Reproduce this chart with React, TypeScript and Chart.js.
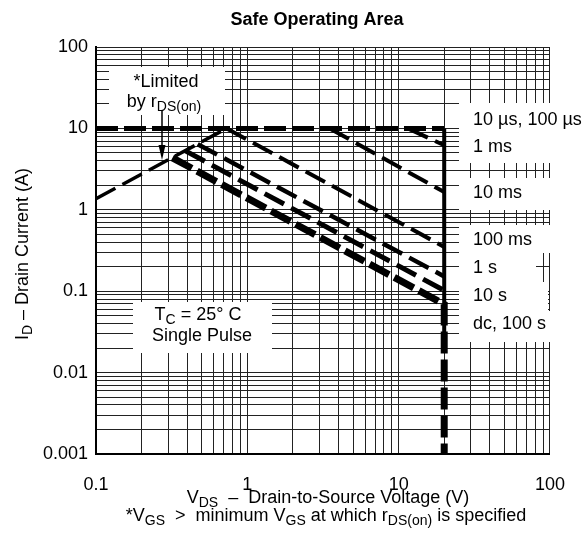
import React, { useEffect, useRef } from "react";
import { Chart, registerables } from "chart.js";

Chart.register(...registerables);

// ---- gridlines & tick labels ----
const xGridValues = [0.1, 0.2, 0.3, 0.4, 0.5, 0.6, 0.7, 0.8, 0.9, 1, 2, 3, 4, 5, 6, 7, 8, 9, 10, 20, 30, 40, 50, 60, 70, 80, 90, 100];
const yGridValues = [
  0.001, 0.002, 0.003, 0.004, 0.005, 0.006, 0.007, 0.008, 0.009,
  0.01, 0.02, 0.03, 0.04, 0.05, 0.06, 0.07, 0.08, 0.09,
  0.1, 0.2, 0.3, 0.4, 0.5, 0.6, 0.7, 0.8, 0.9,
  1, 2, 3, 4, 5, 6, 7, 8, 9,
  10, 20, 30, 40, 50, 60, 70, 80, 90, 100,
];
const xTickValues = [0.1, 1, 10, 100];
const xTickLabels = ["0.1", "1", "10", "100"];
const yTickValues = [0.001, 0.01, 0.1, 1, 10, 100];
const yTickLabels = ["0.001", "0.01", "0.1", "1", "10", "100"];

// ---- curves (V in volts, I in amps) ----
const rdsV = [0.1, 0.73];
const rdsI = [1.37, 10];
const pulse10usV = [0.1, 20];
const pulse10usI = [10, 10];
const verticalV = [20, 20];
const verticalI = [10, 0.03];
const pulse1msV = [11.5, 20];
const pulse1msI = [10, 6.2];
const pulse10msV = [3.5, 20];
const pulse10msI = [10, 1.65];
const pulse100msV = [0.73, 20];
const pulse100msI = [10, 0.35];
const pulse1sV = [0.47, 20];
const pulse1sI = [6.4, 0.152];
const pulse10sV = [0.39, 20];
const pulse10sI = [5.3, 0.102];
const dcV = [0.32, 20, 20];
const dcI = [4.35, 0.069, 0.001];

const curveLabels = ["10 \u00b5s, 100 \u00b5s", "1 ms", "10 ms", "100 ms", "1 s", "10 s", "dc, 100 s"];

const FONT = '"Liberation Sans", Arial, Helvetica, sans-serif';
const FS = 18;

type Part = { t: string; sub?: boolean };

function drawParts(
  ctx: CanvasRenderingContext2D,
  parts: Part[],
  x: number,
  y: number,
  size: number,
  align: "left" | "center",
  bold = false
) {
  const subSize = Math.round(size * 0.78);
  const fontFor = (p: Part) => `${bold ? "bold " : ""}${p.sub ? subSize : size}px ${FONT}`;
  let total = 0;
  const widths = parts.map((p) => {
    ctx.font = fontFor(p);
    const w = ctx.measureText(p.t).width;
    total += w;
    return w;
  });
  let cx = align === "center" ? x - total / 2 : x;
  ctx.textAlign = "left";
  ctx.textBaseline = "middle";
  ctx.fillStyle = "#000";
  parts.forEach((p, i) => {
    ctx.font = fontFor(p);
    ctx.fillText(p.t, cx, p.sub ? y + size * 0.3 : y);
    cx += widths[i];
  });
}

const whiteBoxes = [
  { x: 109, y: 67, w: 116, h: 48 },
  { x: 133, y: 302, w: 139, h: 51 },
  { x: 459, y: 103, w: 126, h: 60 },
  { x: 459, y: 178, w: 126, h: 32 },
  { x: 459, y: 225, w: 126, h: 28 },
  { x: 459, y: 253, w: 77, h: 29 },
  { x: 459, y: 282, w: 89, h: 29 },
  { x: 459, y: 311, w: 126, h: 31 },
];
const labelYs = [120, 147, 193, 240, 268, 296, 324];

const overlayPlugin = {
  id: "overlay",
  beforeDatasetsDraw(chart: any) {
    const ctx: CanvasRenderingContext2D = chart.ctx;
    ctx.save();
    ctx.fillStyle = "#fff";
    for (const b of whiteBoxes) ctx.fillRect(b.x, b.y, b.w, b.h);
    ctx.restore();
  },
  afterDraw(chart: any) {
    const ctx: CanvasRenderingContext2D = chart.ctx;
    const area = chart.chartArea;
    ctx.save();
    // title
    drawParts(ctx, [{ t: "Safe Operating Area" }], (area.left + area.right) / 2 - 6, 20, 18, "center", true);
    // curve labels
    curveLabels.forEach((t, i) => drawParts(ctx, [{ t }], 473, labelYs[i], FS, "left"));
    // limited by rds(on)
    drawParts(ctx, [{ t: "*Limited" }], 166, 82, FS, "center");
    drawParts(ctx, [{ t: "by r" }, { t: "DS(on)", sub: true }], 164, 102, FS, "center");
    // arrow
    ctx.strokeStyle = "#000";
    ctx.lineWidth = 1.5;
    ctx.beginPath();
    ctx.moveTo(162, 111);
    ctx.lineTo(162, 148);
    ctx.stroke();
    ctx.fillStyle = "#000";
    ctx.beginPath();
    ctx.moveTo(162, 160);
    ctx.lineTo(158.5, 145);
    ctx.lineTo(165.5, 145);
    ctx.closePath();
    ctx.fill();
    // Tc box
    drawParts(ctx, [{ t: "T" }, { t: "C", sub: true }, { t: " = 25\u00b0 C" }], 198, 315, FS, "center");
    drawParts(ctx, [{ t: "Single Pulse" }], 202, 336, FS, "center");
    // x title + footnote
    drawParts(
      ctx,
      [{ t: "V" }, { t: "DS", sub: true }, { t: "  \u2013  Drain-to-Source Voltage (V)" }],
      328,
      498,
      FS,
      "center"
    );
    drawParts(
      ctx,
      [
        { t: "*V" },
        { t: "GS", sub: true },
        { t: "  >  minimum V" },
        { t: "GS", sub: true },
        { t: " at which r" },
        { t: "DS(on)", sub: true },
        { t: " is specified" },
      ],
      326,
      516,
      FS,
      "center"
    );
    // y title
    ctx.translate(23, 254);
    ctx.rotate(-Math.PI / 2);
    drawParts(ctx, [{ t: "I" }, { t: "D", sub: true }, { t: " \u2013 Drain Current (A)" }], 0, 0, FS, "center");
    ctx.restore();
  },
};

function pts(xs: number[], ys: number[]) {
  return xs.map((x, i) => ({ x, y: ys[i] }));
}

export default function App() {
  const ref = useRef<HTMLCanvasElement | null>(null);
  useEffect(() => {
    if (!ref.current) return;
    const line = (data: any[], width: number, dash: number[]) => ({
      data,
      showLine: true,
      borderColor: "#000",
      backgroundColor: "#000",
      borderWidth: width,
      borderDash: dash,
      borderCapStyle: "butt",
      pointRadius: 0,
      pointHoverRadius: 0,
      fill: false,
      tension: 0,
    });
    const chart = new Chart(ref.current, {
      type: "scatter",
      data: {
        datasets: [
          line(pts(rdsV, rdsI), 3.5, [22, 8]),
          line(pts(pulse10usV, pulse10usI), 5, [22, 6]),
          line(pts(verticalV, verticalI), 4, []),
          line(pts(pulse1msV, pulse1msI), 4, [22, 8]),
          line(pts(pulse10msV, pulse10msI), 4, [22, 8]),
          line(pts(pulse100msV, pulse100msI), 4, [22, 8]),
          line(pts(pulse1sV, pulse1sI), 4.5, [22, 8]),
          line(pts(pulse10sV, pulse10sI), 5, [22, 8]),
          line(pts(dcV, dcI), 7, [22, 6]),
        ] as any,
      },
      options: {
        animation: false,
        responsive: false,
        maintainAspectRatio: false,
        layout: { padding: { left: 0, right: 32, top: 47, bottom: 0 } },
        plugins: { legend: { display: false }, tooltip: { enabled: false }, title: { display: false } },
        scales: {
          x: {
            type: "logarithmic",
            min: 0.1,
            max: 100,
            afterBuildTicks: (scale: any) => {
              scale.ticks = xGridValues.map((v) => ({ value: v }));
            },
            afterFit: (scale: any) => {
              scale.height = 81;
            },
            ticks: {
              autoSkip: false,
              maxRotation: 0,
              minRotation: 0,
              padding: 20,
              color: "#000",
              font: { family: FONT, size: FS },
              callback: (value: any) => {
                const idx = xTickValues.findIndex((t) => Math.abs(t - value) / t < 1e-6);
                return idx >= 0 ? xTickLabels[idx] : "";
              },
            },
            grid: { color: "#222", lineWidth: 1, drawTicks: false },
            border: { color: "#000", width: 2 },
          },
          y: {
            type: "logarithmic",
            min: 0.001,
            max: 100,
            afterBuildTicks: (scale: any) => {
              scale.ticks = yGridValues.map((v) => ({ value: v }));
            },
            afterFit: (scale: any) => {
              scale.width = 96;
            },
            ticks: {
              autoSkip: false,
              padding: 8,
              color: "#000",
              font: { family: FONT, size: FS },
              callback: (value: any) => {
                const idx = yTickValues.findIndex((t) => Math.abs(t - value) / t < 1e-6);
                return idx >= 0 ? yTickLabels[idx] : "";
              },
            },
            grid: { color: "#222", lineWidth: 1, drawTicks: false },
            border: { color: "#000", width: 2 },
          },
        },
      } as any,
      plugins: [overlayPlugin],
    });
    return () => chart.destroy();
  }, []);
  return (
    <div style={{ position: "absolute", left: 0, top: 0, width: 585, height: 535, background: "#fff" }}>
      <canvas ref={ref} width={585} height={535} style={{ display: "block" }} />
    </div>
  );
}
